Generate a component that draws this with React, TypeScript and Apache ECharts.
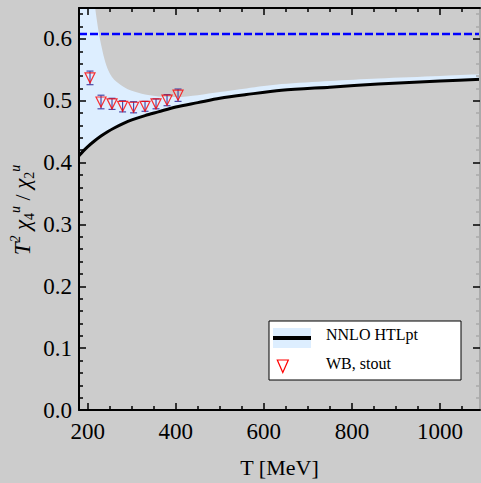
import React, { useEffect, useRef } from "react";
import * as echarts from "echarts";

// ---- data ----
const LOWER_T = [180, 190, 200, 215, 230, 245, 260, 280, 300, 330, 360, 400, 450, 500, 560, 640, 750, 860, 1000, 1100];
const LOWER_VAL = [0.411, 0.419, 0.426, 0.435, 0.443, 0.45, 0.456, 0.463, 0.469, 0.476, 0.482, 0.49, 0.497, 0.504, 0.51, 0.517, 0.522, 0.527, 0.532, 0.535];
const UPPER_T = [180, 190, 200, 210, 216, 225, 232, 240, 250, 260, 280, 300, 330, 360, 400, 450, 500, 560, 640, 750, 860, 1000, 1100];
const UPPER_VAL = [1.2, 0.98, 0.82, 0.71, 0.655, 0.61, 0.585, 0.562, 0.544, 0.534, 0.523, 0.516, 0.51, 0.507, 0.506, 0.509, 0.514, 0.52, 0.527, 0.532, 0.536, 0.54, 0.543];

const WB_T = [205, 230, 255, 279, 304, 330, 355, 380, 405];
const WB_VAL = [0.537, 0.498, 0.495, 0.491, 0.4895, 0.491, 0.495, 0.501, 0.509];
const WB_ERR = [0.011, 0.011, 0.009, 0.009, 0.009, 0.008, 0.008, 0.009, 0.01];

const SB_LIMIT = 0.608;
const SB_T = [180, 1100];

const X_MAJOR = [200, 400, 600, 800, 1000];
const X_MINOR = [250, 300, 350, 450, 500, 550, 650, 700, 750, 850, 900, 950, 1050];
const Y_MAJOR = [0, 0.1, 0.2, 0.3, 0.4, 0.5, 0.6];
const Y_MINOR = [0.02, 0.04, 0.06, 0.08, 0.12, 0.14, 0.16, 0.18, 0.22, 0.24, 0.26, 0.28, 0.32, 0.34, 0.36, 0.38, 0.42, 0.44, 0.46, 0.48, 0.52, 0.54, 0.56, 0.58, 0.62, 0.64];

const X_MIN = 180;
const X_MAX = 1091;
const Y_MIN = 0;
const Y_MAX = 0.65;

const LEGEND_LABELS = ["NNLO HTLpt", "WB, stout"];
const X_NAME = "T [MeV]";

const FONT = "'Liberation Serif', 'Times New Roman', serif";
const BAND = "#ddeeff";
const BG = "#cccccc";
const ERR_COLOR = "#4a4aa8";

export default function App() {
  const ref = useRef<HTMLDivElement>(null);
  useEffect(() => {
    if (!ref.current) return;
    const chart = echarts.init(ref.current, undefined, { renderer: "svg" });

    const lineStyle = { color: "#000", width: 2 };
    const tickStyle = { color: "#000", width: 1.5 };
    const baseX = {
      type: "value",
      min: X_MIN,
      max: X_MAX,
      splitLine: { show: false },
      gridIndex: 0,
      z: 10,
    };
    const baseY = {
      type: "value",
      min: Y_MIN,
      max: Y_MAX,
      splitLine: { show: false },
      gridIndex: 0,
      z: 10,
    };
    const mk = (base: any, position: string, major: boolean, showLine: boolean, lineColor = "#000", tickColor = "#000") => ({
      ...base,
      position,
      axisLine: { show: showLine, onZero: false, lineStyle: { ...lineStyle, color: lineColor } },
      axisTick: {
        show: true,
        inside: true,
        length: major ? 7 : 4,
        customValues: base === baseX ? (major ? X_MAJOR : X_MINOR) : major ? Y_MAJOR : Y_MINOR,
        lineStyle: { ...tickStyle, color: tickColor },
      },
      axisLabel: { show: false },
    });

    const labelStyle = {
      color: "#000",
      fontFamily: FONT,
      fontSize: 23,
      fontWeight: "normal",
      rich: { n: { fontFamily: FONT, fontSize: 23, color: "#000" } },
    };
    const xMain = {
      ...mk(baseX, "bottom", true, true),
      axisLabel: {
        show: true,
        customValues: X_MAJOR,
        margin: 10,
        ...labelStyle,
        formatter: (v: number) => "{n|" + String(v) + "}",
      },
      name: X_NAME,
      nameLocation: "middle",
      nameGap: 46,
      nameTextStyle: { color: "#000", fontFamily: FONT, fontSize: 22 },
    };
    const yMain = {
      ...mk(baseY, "left", true, true),
      axisLabel: {
        show: true,
        customValues: Y_MAJOR,
        margin: 7,
        ...labelStyle,
        formatter: (v: number) => "{n|" + v.toFixed(1) + "}",
      },
    };

    const lower = LOWER_T.map((t, i) => [t, LOWER_VAL[i]]);
    const upper = UPPER_T.map((t, i) => [t, UPPER_VAL[i]]);
    const wbPoints = WB_T.map((t, i) => [t, WB_VAL[i]]);
    const wbErr = WB_T.map((t, i) => [t, WB_VAL[i] - WB_ERR[i], WB_VAL[i] + WB_ERR[i]]);
    const sbLine = SB_T.map((t) => [t, SB_LIMIT]);

    const yLabel = "{i|T}{s|2} {i|χ}{b|4}{s|u} / {i|χ}{b|2}{s|u}";
    const Z = 100;

    chart.setOption({
      animation: false,
      backgroundColor: BG,
      textStyle: { fontFamily: FONT, color: "#000" },
      grid: { left: 79, top: 8, right: 1, bottom: 72, containLabel: false },
      xAxis: [
        xMain,
        mk(baseX, "bottom", false, false),
        mk(baseX, "top", true, true),
        mk(baseX, "top", false, false),
      ],
      yAxis: [
        yMain,
        mk(baseY, "left", false, false),
        mk(baseY, "right", true, true, "#aaa"),
        mk(baseY, "right", false, false, "#aaa", "#aaa"),
      ],
      series: [
        {
          name: "upper",
          type: "line",
          xAxisIndex: 0,
          yAxisIndex: 0,
          data: upper,
          smooth: 0.3,
          showSymbol: false,
          lineStyle: { width: 0, opacity: 0 },
          areaStyle: { color: BAND, opacity: 1, origin: "start" },
          z: 1,
          clip: true,
          silent: true,
        },
        {
          name: "mask",
          type: "line",
          xAxisIndex: 0,
          yAxisIndex: 0,
          data: lower,
          smooth: 0.3,
          showSymbol: false,
          lineStyle: { width: 0, opacity: 0 },
          areaStyle: { color: BG, opacity: 1, origin: "start" },
          z: 2,
          clip: true,
          silent: true,
        },
        {
          name: "lower",
          type: "line",
          xAxisIndex: 0,
          yAxisIndex: 0,
          data: lower,
          smooth: 0.3,
          showSymbol: false,
          lineStyle: { color: "#000", width: 3 },
          z: 4,
          clip: true,
        },
        {
          name: "sb",
          type: "line",
          xAxisIndex: 0,
          yAxisIndex: 0,
          data: sbLine,
          showSymbol: false,
          lineStyle: { color: "#0000ff", width: 2.5, type: [8, 3] },
          z: 5,
          clip: true,
        },
        {
          name: "wbErr",
          type: "custom",
          xAxisIndex: 0,
          yAxisIndex: 0,
          data: wbErr,
          encode: { x: 0, y: [1, 2] },
          z: 6,
          renderItem: (params: any, api: any) => {
            const x = api.value(0);
            const lo = api.value(1);
            const hi = api.value(2);
            const p1 = api.coord([x, hi]);
            const p2 = api.coord([x, lo]);
            const cap = 3.5;
            const st = { stroke: ERR_COLOR, lineWidth: 1.2 };
            return {
              type: "group",
              children: [
                { type: "line", shape: { x1: p1[0], y1: p1[1], x2: p2[0], y2: p2[1] }, style: st },
                { type: "line", shape: { x1: p1[0] - cap, y1: p1[1], x2: p1[0] + cap, y2: p1[1] }, style: st },
                { type: "line", shape: { x1: p2[0] - cap, y1: p2[1], x2: p2[0] + cap, y2: p2[1] }, style: st },
              ],
            };
          },
        },
        {
          name: "WB",
          type: "scatter",
          xAxisIndex: 0,
          yAxisIndex: 0,
          data: wbPoints,
          symbol: "triangle",
          symbolRotate: 180,
          symbolSize: [10, 10],
          itemStyle: { color: "rgba(0,0,0,0)", borderColor: "#ff0000", borderWidth: 1.2 },
          z: 7,
        },
      ],
      graphic: [
        {
          type: "text",
          x: 22,
          y: 210,
          z: Z,
          rotation: Math.PI / 2,
          style: {
            text: yLabel,
            align: "center",
            verticalAlign: "middle",
            fill: "#000",
            fontFamily: FONT,
            fontSize: 22,
            rich: {
              i: { fontStyle: "italic", fontFamily: FONT, fontSize: 23, lineHeight: 28 },
              s: { fontStyle: "italic", fontFamily: FONT, fontSize: 14, verticalAlign: "top", lineHeight: 14 },
              b: { fontFamily: FONT, fontSize: 14, verticalAlign: "bottom", lineHeight: 14 },
            },
          },
        },
        { type: "rect", z: Z, shape: { x: 269, y: 321, width: 192, height: 59 }, style: { fill: "#fff", stroke: "#000", lineWidth: 1 } },
        { type: "rect", z: Z + 1, shape: { x: 273, y: 328, width: 38, height: 20 }, style: { fill: BAND } },
        { type: "line", z: Z + 2, shape: { x1: 273, y1: 338, x2: 311, y2: 338 }, style: { stroke: "#000", lineWidth: 4 } },
        {
          type: "text",
          z: Z + 2,
          x: 326,
          y: 334,
          style: { text: LEGEND_LABELS[0], fontFamily: FONT, fontSize: 16, fill: "#000", verticalAlign: "middle" },
        },
        {
          type: "polygon",
          z: Z + 2,
          shape: { points: [[277.3, 360], [288.3, 360], [282.8, 372.5]] },
          style: { fill: "none", stroke: "#ff0000", lineWidth: 1.2 },
        },
        {
          type: "text",
          z: Z + 2,
          x: 326,
          y: 363,
          style: { text: LEGEND_LABELS[1], fontFamily: FONT, fontSize: 16, fill: "#000", verticalAlign: "middle" },
        },
      ],
    });
    return () => chart.dispose();
  }, []);
  return <div ref={ref} style={{ position: "absolute", left: 0, top: 0, width: 481, height: 483 }} />;
}
